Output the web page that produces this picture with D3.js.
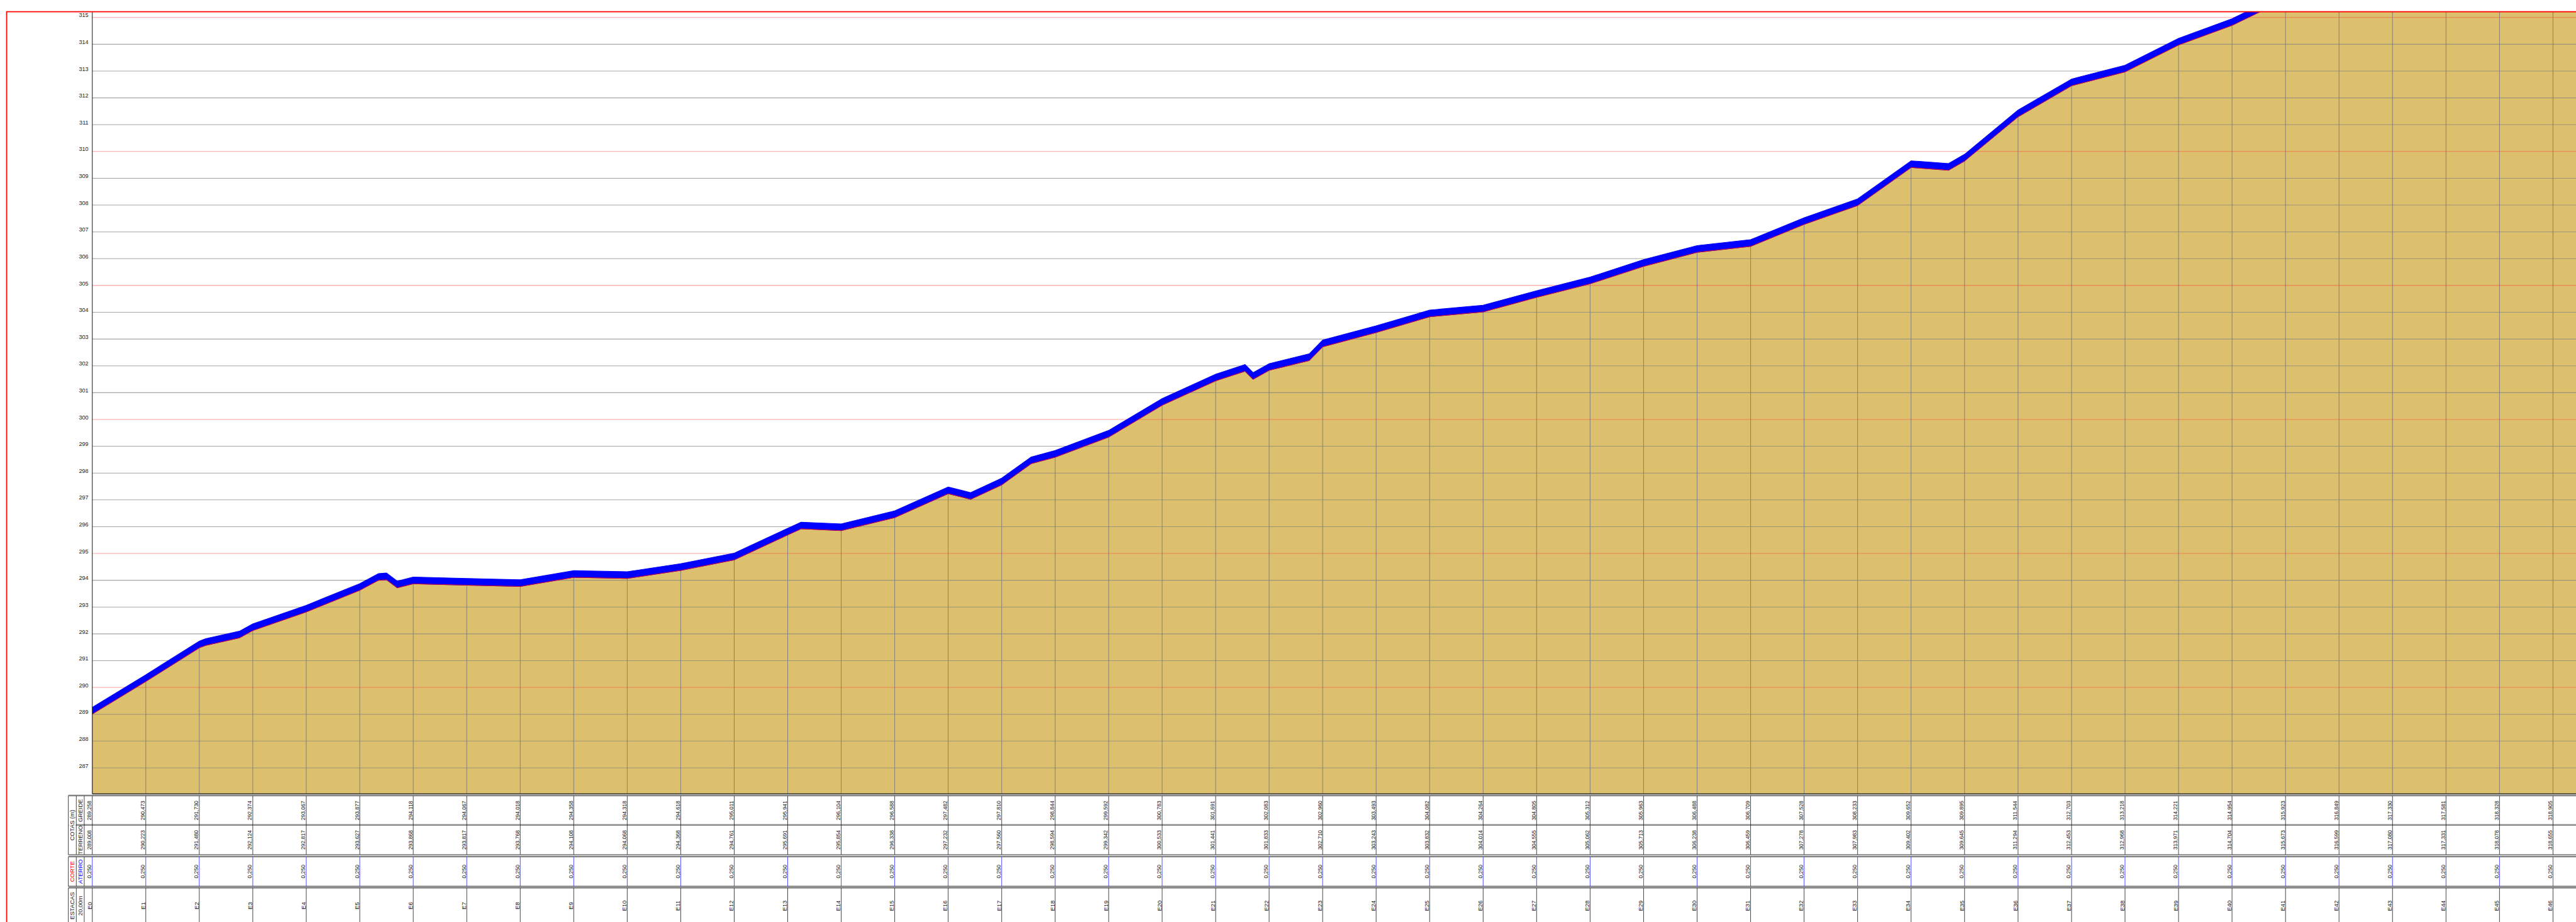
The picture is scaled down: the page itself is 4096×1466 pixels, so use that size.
<!doctype html>
<html>
<head>
<meta charset="utf-8">
<style>
  body { margin: 0; background: #fff; }
  svg { display: block; font-family: "Liberation Sans", Arial, sans-serif; }
</style>
<script src="https://d3js.org/d3.v7.min.js"></script>
</head>
<body>
<svg id="perfil" width="4096" height="1466"></svg>
<script>
// stations E0..E46 (20 m apart)
var estacas = d3.range(0, 47).map(function(i) { return "E" + i; });
var greide = [289.258, 290.473, 291.730, 292.374, 293.067, 293.877, 294.118, 294.067, 294.018, 294.358,
              294.318, 294.618, 295.011, 295.941, 296.104, 296.588, 297.482, 297.810, 298.844, 299.592,
              300.783, 301.691, 302.083, 302.960, 303.493, 304.082, 304.264, 304.805, 305.312, 305.963,
              306.488, 306.709, 307.528, 308.233, 309.652, 309.895, 311.544, 312.703, 313.218, 314.221,
              314.954, 315.923, 316.849, 317.330, 317.581, 318.328, 318.905];
var terreno = [289.008, 290.223, 291.480, 292.124, 292.817, 293.627, 293.868, 293.817, 293.768, 294.108,
               294.068, 294.368, 294.761, 295.691, 295.854, 296.338, 297.232, 297.560, 298.594, 299.342,
               300.533, 301.441, 301.833, 302.710, 303.243, 303.832, 304.014, 304.555, 305.062, 305.713,
               306.238, 306.459, 307.278, 307.983, 309.402, 309.645, 311.294, 312.453, 312.968, 313.971,
               314.704, 315.673, 316.599, 317.080, 317.331, 318.078, 318.655];
var aterro = estacas.map(function() { return 0.250; });

// extra terrain points between stations (station fraction, terrain elevation)
var intermEstaca  = [2.12, 2.75, 5.35, 5.5, 5.7, 13.25, 16.42, 17.55, 21.55, 21.7, 22.75, 34.7];
var intermTerreno = [291.57, 291.85, 294.0, 294.02, 293.72, 295.92, 297.02, 298.35, 301.8, 301.5, 302.2, 309.3];

var yTicks = d3.range(287, 316);

var S = 4096 / 5825;
var svg = d3.select("#perfil");
var root = svg.append("g").attr("transform", "scale(" + S + ")");

var pLeft = 208.7, pTop = 26.5, pRight = 5830, pBottom = 1795;
var x = d3.scaleLinear().domain([0, 46]).range([pLeft, 5773]);
var y = d3.scaleLinear().domain([286, 315]).range([39.5 + 29 * 60.6, 39.5]);
var fmt = function(v) { return d3.format(".3f")(v).replace(".", ","); };

// merged profile
var perfil = estacas.map(function(e, i) { return {s: i, t: terreno[i], g: greide[i]}; });
intermEstaca.forEach(function(s, i) {
    perfil.push({s: s, t: intermTerreno[i], g: intermTerreno[i] + 0.25});
});
perfil.sort(function(a, b) { return a.s - b.s; });
// carry last value on to the frame edge
var last = perfil[perfil.length - 1];
perfil.push({s: x.invert(pRight), t: last.t, g: last.g});

root.append("clipPath").attr("id", "clip")
    .append("rect").attr("x", pLeft).attr("y", pTop)
    .attr("width", pRight - pLeft).attr("height", pBottom - pTop);

var plot = root.append("g").attr("clip-path", "url(#clip)");

// terrain fill
plot.append("path")
    .datum(perfil)
    .attr("fill", "#DDC06E")
    .attr("d", d3.area().x(function(d) { return x(d.s); }).y0(pBottom).y1(function(d) { return y(d.t); }));

// station lines inside terrain
plot.selectAll(".vl")
    .data(estacas)
    .enter().append("line")
    .attr("x1", function(d, i) { return x(i); })
    .attr("x2", function(d, i) { return x(i); })
    .attr("y1", pBottom)
    .attr("y2", function(d, i) { return y(terreno[i]); })
    .attr("stroke", "#7a7a7a")
    .attr("stroke-width", 1.3);

// horizontal grid
plot.selectAll(".hl")
    .data(yTicks)
    .enter().append("line")
    .attr("x1", pLeft).attr("x2", pRight)
    .attr("y1", function(d) { return y(d); })
    .attr("y2", function(d) { return y(d); })
    .attr("stroke", function(d) { return d % 5 === 0 ? "#ff3030" : "#808080"; })
    .attr("stroke-opacity", function(d) { return d % 5 === 0 ? 0.45 : 0.7; })
    .attr("stroke-width", 1.5);

// aterro band between terrain and greide
plot.append("path")
    .datum(perfil)
    .attr("fill", "#0000ff")
    .attr("stroke", "#0000ff")
    .attr("stroke-width", 1.5)
    .attr("d", d3.area().x(function(d) { return x(d.s); })
        .y0(function(d) { return y(d.t); }).y1(function(d) { return y(d.g); }));

plot.append("path")
    .datum(perfil)
    .attr("fill", "none")
    .attr("stroke", "#ff0000")
    .attr("stroke-width", 1.2)
    .attr("d", d3.line().x(function(d) { return x(d.s); }).y(function(d) { return y(d.t); }));

// axis frame
root.append("line").attr("x1", pLeft).attr("x2", pLeft).attr("y1", pTop).attr("y2", pBottom)
    .attr("stroke", "#222").attr("stroke-width", 1.5);
root.append("line").attr("x1", pLeft).attr("x2", pRight).attr("y1", pBottom).attr("y2", pBottom)
    .attr("stroke", "#333").attr("stroke-width", 2);

root.selectAll(".yl")
    .data(yTicks)
    .enter().append("text")
    .attr("x", 200)
    .attr("y", function(d) { return y(d); })
    .attr("dy", "-0.5")
    .attr("text-anchor", "end")
    .attr("font-size", 13)
    .attr("fill", "#222")
    .text(function(d) { return d; });

// ---- table ----
var cols = [154.5, 172.5, 190.5];
var blocks = [
    {top: 1799.5, bottom: 1932.5, mid: 1866, line: "#222"},
    {top: 1937.5, bottom: 2004, line: "#2b2bff"},
    {top: 2008, bottom: 2092, line: "#222"}
];
var tbl = root.append("g");

blocks.forEach(function(b) {
    var ys = [b.top];
    if (b.mid) ys.push(b.mid);
    ys.forEach(function(v) {
        tbl.append("line").attr("x1", cols[0]).attr("x2", pRight).attr("y1", v - 1.8).attr("y2", v - 1.8)
            .attr("stroke", "#9a9a9a").attr("stroke-width", 2);
        tbl.append("line").attr("x1", cols[0]).attr("x2", pRight).attr("y1", v).attr("y2", v)
            .attr("stroke", "#222").attr("stroke-width", 1.2);
    });
    tbl.append("line").attr("x1", cols[0]).attr("x2", pRight).attr("y1", b.bottom).attr("y2", b.bottom)
        .attr("stroke", "#8a8a8a").attr("stroke-width", 2.5);
    cols.forEach(function(c) {
        tbl.append("line").attr("x1", c).attr("x2", c).attr("y1", b.top).attr("y2", b.bottom)
            .attr("stroke", "#222").attr("stroke-width", 1.2);
    });
    tbl.selectAll(null)
        .data(estacas)
        .enter().append("line")
        .attr("x1", function(d, i) { return x(i); })
        .attr("x2", function(d, i) { return x(i); })
        .attr("y1", b.top).attr("y2", b.bottom)
        .attr("stroke", b.line).attr("stroke-width", 1.2);
});
// first header column is one cell across the cotas block
tbl.append("line").attr("x1", cols[0] + 1).attr("x2", cols[1] - 1)
    .attr("y1", blocks[0].mid - 1.8).attr("y2", blocks[0].mid - 1.8)
    .attr("stroke", "#fff").attr("stroke-width", 2.5);
tbl.append("line").attr("x1", cols[0] + 1).attr("x2", cols[1] - 1)
    .attr("y1", blocks[0].mid).attr("y2", blocks[0].mid)
    .attr("stroke", "#fff").attr("stroke-width", 2);

function vtext(g, cx, cy, txt, size, color) {
    g.append("text")
        .attr("transform", "translate(" + cx + "," + cy + ") rotate(-90)")
        .attr("text-anchor", "middle")
        .attr("dy", "0.35em")
        .attr("font-size", size)
        .attr("fill", color || "#222")
        .text(txt);
}

var c1 = (cols[0] + cols[1]) / 2, c2 = (cols[1] + cols[2]) / 2;
var rG = (blocks[0].top + blocks[0].mid) / 2, rT = (blocks[0].mid + blocks[0].bottom) / 2;
var rC = (blocks[1].top + blocks[1].bottom) / 2, rE = 2048;
vtext(tbl, c1, (blocks[0].top + blocks[0].bottom) / 2, "COTAS (m)", 13.5);
vtext(tbl, c2, rG, "GREIDE", 13.5);
vtext(tbl, c2, rT, "TERRENO", 13.5);
vtext(tbl, c1, rC, "CORTE", 13.5, "#ff0000");
vtext(tbl, c2, rC, "ATERRO", 13.5, "#0000ff");
vtext(tbl, c1, rE, "ESTACAS", 13.5);
vtext(tbl, c2, rE, "20,00m", 13.5);

estacas.forEach(function(e, i) {
    var cx = x(i) - 6.5;
    vtext(tbl, cx, rG, fmt(greide[i]), 12.3);
    vtext(tbl, cx, rT, fmt(terreno[i]), 12.3);
    vtext(tbl, cx, rC, fmt(aterro[i]), 12.3);
    vtext(tbl, cx, rE, e, 13.5);
});

// outer red frame
root.append("rect")
    .attr("x", 15).attr("y", pTop)
    .attr("width", 5900).attr("height", 2200)
    .attr("fill", "none")
    .attr("stroke", "#ff0000")
    .attr("stroke-width", 2.5);
</script>
</body>
</html>
